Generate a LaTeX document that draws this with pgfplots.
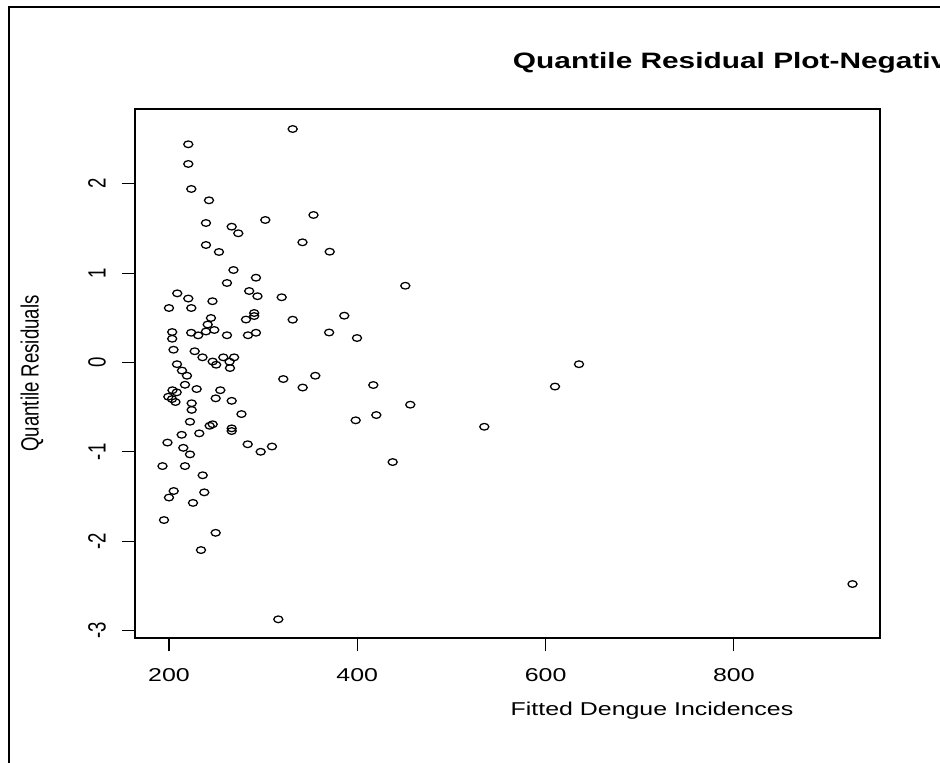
\documentclass[border=0pt]{standalone}
\usepackage{pgfplots}
\pgfplotsset{compat=1.18}
\usepackage{graphicx}
\usepackage{fontspec}
\setmainfont{Liberation Sans}
\pgfplotstableread{
x y
331.4 2.612
220.5 2.441
220.5 2.221
223.7 1.941
242.5 1.814
239.3 1.560
266.6 1.519
273.6 1.445
302.3 1.594
353.5 1.650
239.3 1.314
253.1 1.236
341.8 1.344
370.7 1.239
268.5 1.034
261.6 0.889
292.4 0.948
208.8 0.773
220.5 0.715
200.0 0.609
223.7 0.609
246.2 0.685
285.2 0.799
294.0 0.741
319.7 0.729
290.5 0.553
290.5 0.519
281.8 0.480
331.4 0.478
244.6 0.497
241.1 0.424
248.1 0.363
239.3 0.346
223.6 0.332
231.0 0.303
261.6 0.304
283.9 0.304
292.4 0.332
370.1 0.335
203.4 0.340
203.4 0.265
204.8 0.142
227.3 0.125
235.6 0.057
246.4 0.010
250.1 -0.026
257.7 0.057
264.3 0.008
269.2 0.057
264.8 -0.063
208.5 -0.020
213.8 -0.091
219.1 -0.149
321.4 -0.186
355.4 -0.149
342.0 -0.281
217.0 -0.250
229.4 -0.298
254.5 -0.311
203.7 -0.311
208.2 -0.335
199.3 -0.384
203.2 -0.410
206.9 -0.443
249.6 -0.402
266.6 -0.430
224.1 -0.457
224.1 -0.531
277.0 -0.578
222.3 -0.664
243.2 -0.709
246.4 -0.692
266.6 -0.738
266.6 -0.768
213.5 -0.810
232.2 -0.794
198.4 -0.897
283.6 -0.916
297.4 -1.000
309.4 -0.941
215.2 -0.956
222.3 -1.029
193.1 -1.160
217.0 -1.160
235.8 -1.263
205.0 -1.439
200.0 -1.512
237.5 -1.454
225.5 -1.572
194.7 -1.764
249.6 -1.907
234.0 -2.100
316.1 -2.875
451.0 0.858
386.2 0.523
399.7 0.273
417.0 -0.253
456.3 -0.473
398.3 -0.648
420.2 -0.589
534.9 -0.720
437.6 -1.115
610.0 -0.270
635.5 -0.020
926.0 -2.480
}\resid
\begin{document}
\begin{tikzpicture}
\def\pxu{0.75pt}
\useasboundingbox (0,0) rectangle (940*\pxu,-763*\pxu);
\clip (0,0) rectangle (940*\pxu,-763*\pxu);
\fill[white] (0,0) rectangle (940*\pxu,-763*\pxu);
\draw[line width=2pt] (9*\pxu,-775*\pxu) -- (9*\pxu,-7*\pxu) -- (960*\pxu,-7*\pxu);
\node[anchor=base west, inner sep=0pt, font=\fontsize{16.7}{18}\selectfont\bfseries] at (512.7*\pxu,-69*\pxu) {\scalebox{1.34}[1]{Quantile Residual Plot-Negative Binomial Model}};
\node[inner sep=0pt, font=\fontsize{13.95}{15}\selectfont] at (652*\pxu,-711*\pxu) {\scalebox{1.34}[1]{Fitted Dengue Incidences}};
\node[inner sep=0pt, font=\fontsize{13.95}{15}\selectfont] at (32*\pxu,-373.5*\pxu) {\rotatebox{90}{\scalebox{1}[1.34]{Quantile Residuals}}};
\begin{axis}[
  at={(101.25pt,-81.75pt)}, anchor=north west,
  scale only axis, width=558.75pt, height=396.75pt,
  xmin=163.9, xmax=955.2, ymin=-3.084, ymax=2.836,
  axis line style={line width=1pt, black},
  tick align=outside, xtick pos=left, ytick pos=left,
  xtick={200,400,600,800}, ytick={-3,-2,-1,0,1,2},
  xticklabels={}, yticklabels={},
  major tick length=10pt,
  tick style={line width=0.8pt, black},
  clip=false,
]
\addplot[only marks, mark=o, mark size=2.5pt, mark options={xscale=1.36, line width=0.95pt, black}] table {\resid};
\foreach \t in {200,400,600,800}{
  \edef\tmp{\noexpand\node[inner sep=0pt, yshift=-27.75pt, font=\noexpand\fontsize{13.95}{15}\noexpand\selectfont] at (axis cs:\t,-3.084) {\noexpand\scalebox{1.34}[1]{\t}};}
  \tmp
}
\foreach \t in {-3,-2,-1,0,1,2}{
  \edef\tmp{\noexpand\node[inner sep=0pt, xshift=-28.5pt, font=\noexpand\fontsize{13.95}{15}\noexpand\selectfont] at (axis cs:163.9,\t) {\noexpand\rotatebox{90}{\noexpand\scalebox{1}[1.34]{\t}}};}
  \tmp
}
\end{axis}
\end{tikzpicture}
\end{document}
